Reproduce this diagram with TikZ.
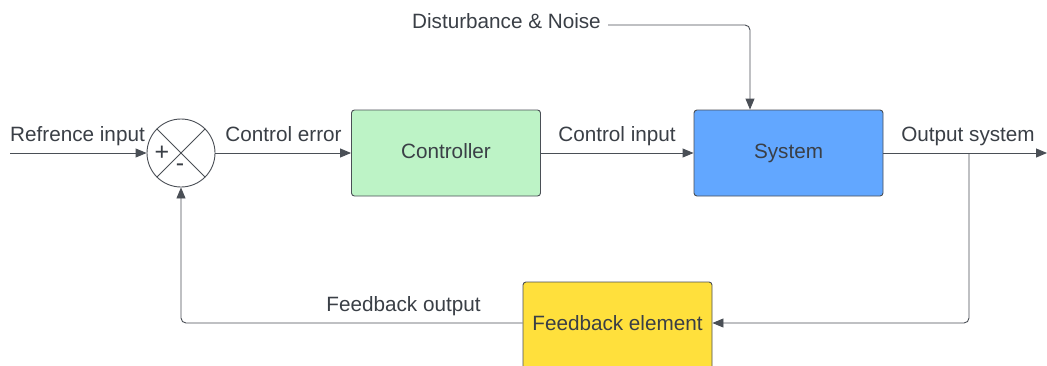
\documentclass[tikz,border=0pt]{standalone}
\usepackage{fontspec}
\setmainfont{Liberation Sans}
\usetikzlibrary{arrows.meta}
\definecolor{ink}{HTML}{3A3F46}
\definecolor{wire}{HTML}{4A4F56}
\definecolor{ctrlgreen}{HTML}{BDF3C6}
\definecolor{sysblue}{HTML}{62A7FF}
\definecolor{fbyellow}{HTML}{FFE03C}
\tikzset{
  block/.style={draw=wire, line width=0.9pt, rounded corners=3pt, minimum width=189pt,
    inner sep=0pt, text=ink, font=\fontsize{20.7}{24}\selectfont,
    text height=15pt, text depth=5pt},
  lbl/.style={text=ink, font=\fontsize{20.7}{24}\selectfont, inner sep=0pt},
  sign/.style={text=ink, font=\fontsize{25}{28}\selectfont, inner sep=0pt},
  conn/.style={draw=wire, line width=0.9pt, rounded corners=5pt},
  arr/.style={conn, -{Triangle[length=11pt,width=9pt]}},
}
\begin{document}
\begin{tikzpicture}[x=1pt, y=-1pt]
\clip (0,0) rectangle (1047,365);
\fill[white] (0,0) rectangle (1047,365);

% summing junction
\node[circle, draw=wire, line width=0.9pt, minimum size=68pt, inner sep=0pt] (sum) at (181,153) {};
\draw[wire, line width=0.9pt] (sum.north west) -- (sum.south east);
\draw[wire, line width=0.9pt] (sum.south west) -- (sum.north east);
\node[sign] (plus) at (162,153) {+};
\node[sign] (minus) at (180,168) {-};

% blocks
\node[block, fill=ctrlgreen, minimum height=86pt] (ctrl) at (446,153) {Controller};
\node[block, fill=sysblue, minimum height=86pt] (sys) at (788.5,153) {System};
\node[block, fill=fbyellow, minimum height=92pt] (fb) at (617.5,328) {\raisebox{3pt}{Feedback element}};

% free ends and branch points
\coordinate (in) at (10,153);
\coordinate (out) at (1047,153);
\coordinate (branch) at (969,153);
\coordinate (dstart) at (608,25);
\coordinate (fbin) at ([yshift=5pt]fb.east);
\coordinate (fbout) at ([yshift=5pt]fb.west);

% labels
\node[lbl, anchor=base] (lin) at (77.5,141) {Refrence input};
\node[lbl, anchor=base] (lerr) at (283.5,141) {Control error};
\node[lbl, anchor=base] (lci) at (617,141) {Control input};
\node[lbl, anchor=base] (lout) at (968,141) {Output system};
\node[lbl, anchor=base east] (dist) at (601,28) {Disturbance \& Noise};
\node[lbl, anchor=base] (lfb) at (403.5,311) {Feedback output};

% signal flow
\draw[arr] (in) -- (sum.west);
\draw[arr] (sum.east) -- (ctrl.west);
\draw[arr] (ctrl.east) -- (sys.west);
\draw[arr] (sys.east) -- (out);
\draw[arr] (dstart) -| (750,0 |- sys.north);
\draw[arr] (branch) |- (fbin);
\draw[arr] (fbout) -| (sum.south);
\end{tikzpicture}
\end{document}
